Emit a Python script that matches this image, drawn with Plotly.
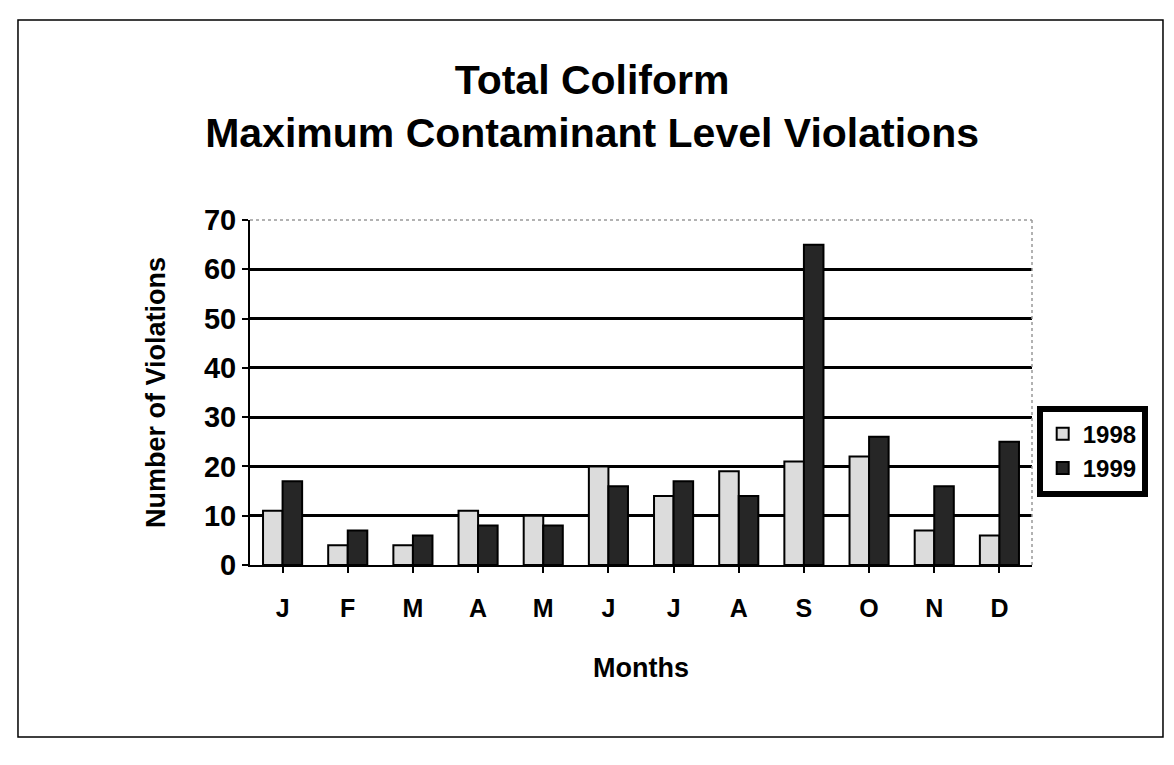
import plotly.graph_objects as go

month_labels = ["J", "F", "M", "A", "M", "J", "J", "A", "S", "O", "N", "D"]
v1998 = [11, 4, 4, 11, 10, 20, 14, 19, 21, 22, 7, 6]
v1999 = [17, 7, 6, 8, 8, 16, 17, 14, 65, 26, 16, 25]
y_ticks = [0, 10, 20, 30, 40, 50, 60, 70]

x_idx = list(range(len(month_labels)))

fig = go.Figure()
fig.add_trace(go.Bar(x=x_idx, y=v1998, name="<b>1998</b>",
                     marker=dict(color="#dcdcdc", line=dict(color="black", width=2))))
fig.add_trace(go.Bar(x=x_idx, y=v1999, name="<b>1999</b>",
                     marker=dict(color="#262626", line=dict(color="black", width=2))))

font_family = "Liberation Sans, Arial, sans-serif"

fig.update_layout(
    width=1174, height=765,
    paper_bgcolor="white", plot_bgcolor="white",
    margin=dict(l=242, r=150, t=212, b=208),
    barmode="group", bargap=0.4, bargroupgap=0,
    font=dict(family=font_family, color="black"),
    title=dict(text="<b>Total Coliform</b><br><b>Maximum Contaminant Level Violations</b>",
               x=0.4975, xanchor="center", y=0.888, yanchor="middle",
               font=dict(size=41, family=font_family, color="black")),
    xaxis=dict(tickmode="array", tickvals=x_idx, ticktext=["<b>%s</b>" % m for m in month_labels],
               tickfont=dict(size=25), range=[-0.5, 11.5],
               showline=True, linecolor="black", linewidth=2,
               ticks="outside", ticklen=6, tickwidth=2, tickcolor="black",
               tickson="boundaries", showgrid=False, ticklabelstandoff=14,
               title=dict(text="<b>Months</b>", font=dict(size=27), standoff=37)),
    yaxis=dict(range=[0, 70], tickvals=y_ticks, ticktext=["<b>%d</b>" % t for t in y_ticks],
               tickfont=dict(size=29),
               showline=True, linecolor="black", linewidth=2,
               ticks="outside", ticklen=6, tickwidth=2, tickcolor="black",
               showgrid=True, gridcolor="black", gridwidth=2.5,
               title=dict(text="<b>Number of Violations</b>", font=dict(size=27), standoff=30)),
    legend=dict(x=1.006, y=0.33, xanchor="left", yanchor="middle",
                bordercolor="black", borderwidth=6, bgcolor="white",
                font=dict(size=24, family=font_family), traceorder="normal",
                itemwidth=30, tracegroupgap=2),
    showlegend=True,
)

# plot area top/right border (light dotted)
fig.add_shape(type="line", xref="paper", yref="paper", x0=0, x1=1, y0=1, y1=1,
              line=dict(color="#999999", width=1.5, dash="dot"))
fig.add_shape(type="line", xref="paper", yref="paper", x0=1, x1=1, y0=0, y1=1,
              line=dict(color="#999999", width=1.5, dash="dot"))
# outer frame
fig.add_shape(type="rect", xref="paper", yref="paper",
              x0=-0.2967, x1=1.1675, y0=-0.4986, y1=1.5797,
              line=dict(color="black", width=1.5))

fig.write_html("out.html")
